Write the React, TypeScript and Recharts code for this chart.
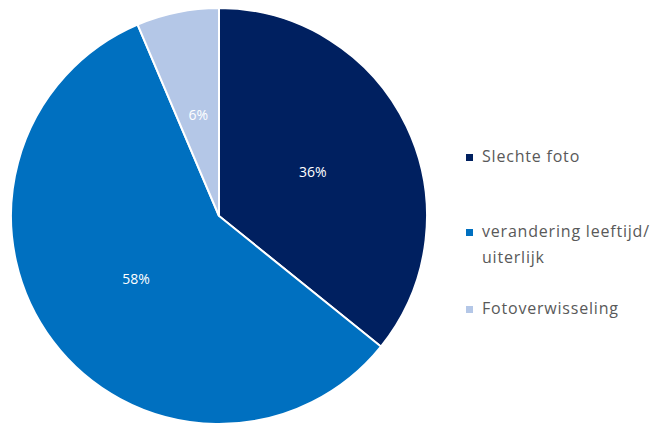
import React from "react";
import { PieChart, Pie, Cell, Legend } from "recharts";

const categories = ["Slechte foto", "verandering leeftijd/ uiterlijk", "Fotoverwisseling"];
const shares = [35.8, 57.8, 6.4];
const colors = ["#002060", "#0070C0", "#B4C7E7"];
const legendLines = [["Slechte foto"], ["verandering leeftijd/", "uiterlijk"], ["Fotoverwisseling"]];

const data = categories.map((name, i) => ({ name, value: shares[i] }));

const RAD = Math.PI / 180;

function PctLabel(props: any) {
  const { cx, cy, midAngle, outerRadius, value } = props;
  const r = outerRadius * 0.5;
  const x = cx + r * Math.cos(-midAngle * RAD);
  const y = cy + r * Math.sin(-midAngle * RAD);
  return (
    <text x={x} y={y} fill="#ffffff" fontSize={14} fontFamily="Open Sans" textAnchor="middle" dominantBaseline="central">
      {Math.round(value)}%
    </text>
  );
}

function LegendBox() {
  const tops = [146, 221, 298];
  return (
    <div style={{ position: "relative", width: 190, height: 200, fontFamily: "Open Sans", fontSize: 16, letterSpacing: 0.8, color: "#595959" }}>
      {legendLines.map((lines, i) => (
        <div key={i} style={{ position: "absolute", left: 0, top: tops[i] - 146, display: "flex" }}>
          <div style={{ width: 7, height: 7, background: colors[i], marginTop: 8, marginRight: 9 }} />
          <div style={{ lineHeight: "26px", marginTop: -3 }}>
            {lines.map((l, j) => (
              <div key={j} style={{ whiteSpace: "nowrap" }}>{l}</div>
            ))}
          </div>
        </div>
      ))}
    </div>
  );
}

export default function App() {
  return (
    <div style={{ position: "absolute", left: 0, top: 0, width: 652, height: 426, background: "#fff" }}>
      <PieChart width={652} height={426} margin={{ top: 0, right: 0, bottom: 0, left: 0 }}>
        <Pie
          data={data}
          dataKey="value"
          cx={219}
          cy={216}
          outerRadius={208}
          startAngle={90}
          endAngle={-270}
          stroke="#ffffff"
          strokeWidth={2}
          label={PctLabel}
          labelLine={false}
          isAnimationActive={false}
        >
          {data.map((d, i) => (
            <Cell key={d.name} fill={colors[i]} />
          ))}
        </Pie>
        <Legend content={<LegendBox />} wrapperStyle={{ left: 466, top: 146, width: 190 }} />
      </PieChart>
    </div>
  );
}
